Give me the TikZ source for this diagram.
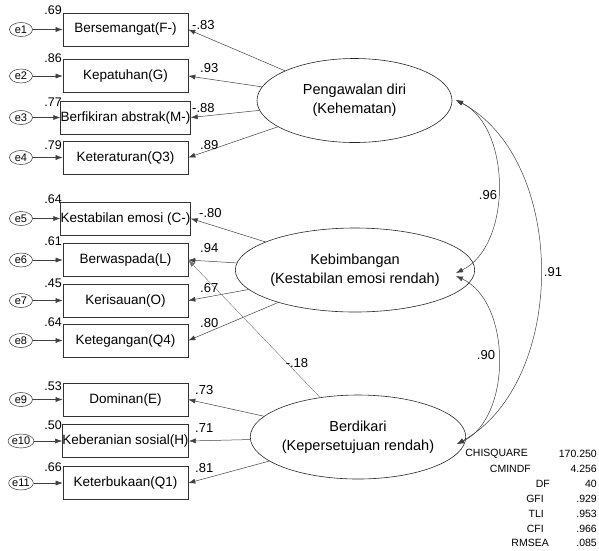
\documentclass[tikz,border=0pt]{standalone}
\usepackage{fontspec}
\setmainfont{Liberation Sans}
\usetikzlibrary{arrows.meta,shapes.geometric}
\begin{document}
\begin{tikzpicture}[x=1pt,y=-1pt,
  ind/.style={draw=black!80,line width=0.6pt,minimum width=125pt,minimum height=33pt,inner sep=0pt,font=\fontsize{13.5}{15}\selectfont},
  err/.style={draw=black!80,ellipse,line width=0.5pt,minimum width=23pt,minimum height=14pt,inner sep=0pt,font=\fontsize{11}{12}\selectfont},
  lat/.style={draw=black!85,ellipse,line width=0.6pt,minimum width=195pt,minimum height=84pt,inner sep=0pt,align=center,font=\fontsize{14.5}{19}\selectfont},
  arr/.style={draw=black!75,line width=0.5pt,-{Latex[length=7pt,width=5pt]}},
  cov/.style={draw=black!75,line width=0.5pt,{Latex[length=7pt,width=5pt]}-{Latex[length=7pt,width=5pt]}},
  lbl/.style={font=\fontsize{13}{14}\selectfont,inner sep=0pt},
  rsq/.style={font=\fontsize{12.5}{14}\selectfont,inner sep=0pt,anchor=east},
  stat/.style={font=\fontsize{10.5}{12}\selectfont,inner sep=0pt,anchor=east}]
\useasboundingbox (0,0) rectangle (599,550);
% indicators
\node[ind] (b1) at (125.5,29.5) {Bersemangat(F-)};
\node[ind] (b2) at (125.5,76) {Kepatuhan(G)};
\node[ind] (b3) at (125.5,117.5) {Berfikiran abstrak(M-)};
\node[ind] (b4) at (125.5,157.5) {Keteraturan(Q3)};
\node[ind] (b5) at (125.5,218.5) {Kestabilan emosi (C-)};
\node[ind] (b6) at (125.5,260) {Berwaspada(L)};
\node[ind] (b7) at (125.5,300.5) {Kerisauan(O)};
\node[ind] (b8) at (125.5,340.5) {Ketegangan(Q4)};
\node[ind] (b9) at (125.5,399.5) {Dominan(E)};
\node[ind] (b10) at (125.5,441) {Keberanian sosial(H)};
\node[ind] (b11) at (125.5,483) {Keterbukaan(Q1)};
% errors
\foreach \i/\y in {1/29.5,2/76,3/117.5,4/157.5,5/218.5,6/260,7/300.5,8/340.5,9/399.5,10/441,11/483}{
  \node[err] (e\i) at (21,\y) {e\i};
  \draw[arr] (e\i) -- (b\i.west);
}
% R squared
\node[rsq] (r1) at (62,10) {.69};
\node[rsq] (r2) at (62,58) {.86};
\node[rsq] (r3) at (62,102) {.77};
\node[rsq] (r4) at (62,145) {.79};
\node[rsq] (r5) at (62,199) {.64};
\node[rsq] (r6) at (62,241) {.61};
\node[rsq] (r7) at (62,283) {.45};
\node[rsq] (r8) at (62,322) {.64};
\node[rsq] (r9) at (62,386) {.53};
\node[rsq] (r10) at (62,425) {.50};
\node[rsq] (r11) at (62,467) {.66};
% latent
\node[lat] (L1) at (354.5,100.5) {Pengawalan diri\\(Kehematan)};
\node[lat] (L2) at (355,270) {Kebimbangan\\(Kestabilan emosi rendah)};
\node[lat] (L3) at (358,437) {Berdikari\\(Kepersetujuan rendah)};
% loadings
\foreach \b in {1,2,3,4}{\draw[arr] (L1) -- (b\b.east);}
\foreach \b in {5,6,7,8}{\draw[arr] (L2) -- (b\b.east);}
\foreach \b in {9,10,11}{\draw[arr] (L3) -- (b\b.east);}
\draw[arr,draw=black!55,line width=0.4pt] (L3) -- (b6.east);
% loading labels
\node[lbl,anchor=west] (l1) at (192,25) {-.83};
\node[lbl,anchor=west] (l2) at (200,68) {.93};
\node[lbl,anchor=west] (l3) at (192,108) {-.88};
\node[lbl,anchor=west] (l4) at (200,145) {.89};
\node[lbl,anchor=west] (l5) at (199,213) {-.80};
\node[lbl,anchor=west] (l6) at (200,248) {.94};
\node[lbl,anchor=west] (l7) at (200,288) {.67};
\node[lbl,anchor=west] (l8) at (200,323) {.80};
\node[lbl,anchor=west] (l9) at (195,390) {.73};
\node[lbl,anchor=west] (l10) at (195,428) {.71};
\node[lbl,anchor=west] (l11) at (195,468) {.81};
\node[lbl] (lx) at (297,363) {-.18};
% covariances
\coordinate (c1) at (456,100);
\coordinate (c2a) at (456,273);
\coordinate (c2b) at (456,276);
\coordinate (c3) at (457,444);
\draw[cov] (c1) .. controls (512,128) and (512,246) .. (c2a);
\draw[cov] (c2b) .. controls (512,302) and (512,418) .. (c3);
\draw[cov] (c1) .. controls (568,160) and (568,382) .. (c3);
\node[lbl,fill=white,inner sep=0.5pt] (k1) at (488,195) {.96};
\node[lbl,fill=white,inner sep=0.5pt] (k2) at (486,355) {.90};
\node[lbl] (k3) at (553,272) {.91};
% fit statistics
\node[stat] (s1) at (528,454) {CHISQUARE};
\node[stat] (s2) at (531,469) {CMINDF};
\node[stat] (s3) at (550,484) {DF};
\node[stat] (s4) at (544,499) {GFI};
\node[stat] (s5) at (544,514) {TLI};
\node[stat] (s6) at (544,529) {CFI};
\node[stat] (s7) at (549,543) {RMSEA};
\node[stat] (v1) at (597,454) {170.250};
\node[stat] (v2) at (597,469) {4.256};
\node[stat] (v3) at (597,484) {40};
\node[stat] (v4) at (597,499) {.929};
\node[stat] (v5) at (597,514) {.953};
\node[stat] (v6) at (597,529) {.966};
\node[stat] (v7) at (597,543) {.085};
\end{tikzpicture}
\end{document}
